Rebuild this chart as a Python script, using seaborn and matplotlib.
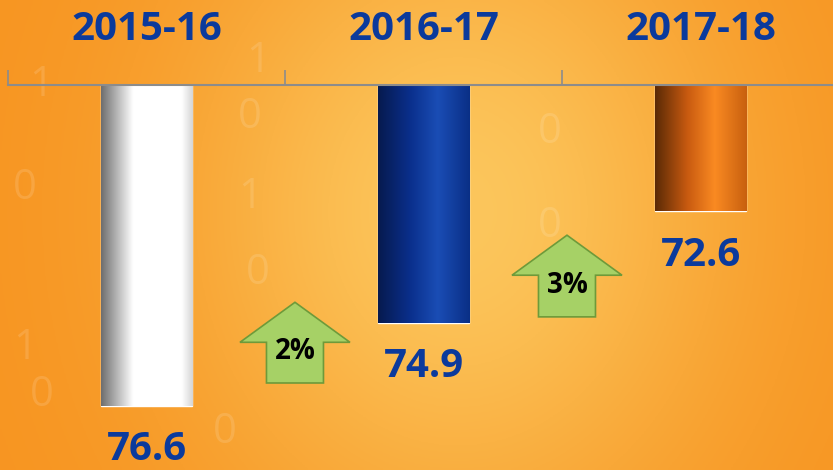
import numpy as np
import matplotlib.pyplot as plt
import matplotlib.patches as mpatches
from matplotlib.colors import LinearSegmentedColormap
import seaborn as sns

# data
years = ["2015-16", "2016-17", "2017-18"]
values = [76.6, 74.9, 72.6]
growth = ["2%", "3%"]

# arrow placement (layout only)
arrow_x = [0.536, 1.518]
arrow_bottom = [76.13, 74.77]
arrow_top = [74.47, 73.09]

sns.set_theme(style="white")
plt.rcParams["font.family"] = ["Open Sans", "DejaVu Sans"]

BLUE = "#0B3A9C"
GRAY = "#8C8C8C"

fig = plt.figure(figsize=(8.33, 4.70), dpi=100)

# =====================
# background gradient
# =====================
bg = fig.add_axes([0, 0, 1, 1], zorder=0)
gx, gy = np.meshgrid(np.linspace(0, 1, 300), np.linspace(0, 1, 170))
w = np.exp(-((gx - 0.55) / 0.33) ** 2 - ((gy - 0.45) / 0.7) ** 2)
dark = np.array([247, 148, 32]) / 255
light = np.array([252, 198, 92]) / 255
img = dark[None, None, :] * (1 - w[..., None]) + light[None, None, :] * w[..., None]
bg.imshow(img, extent=[0, 1, 0, 1], aspect="auto", origin="upper")
for ch, fx, fy in [("1", 0.05, 0.82), ("1", 0.31, 0.87), ("0", 0.03, 0.60),
                   ("1", 0.30, 0.58), ("0", 0.30, 0.75), ("0", 0.31, 0.42),
                   ("1", 0.03, 0.26), ("0", 0.05, 0.16), ("0", 0.66, 0.72),
                   ("0", 0.66, 0.52), ("1", 0.18, 0.40), ("0", 0.27, 0.08)]:
    bg.text(fx, fy, ch, color="white", alpha=0.13, fontsize=30,
            ha="center", va="center", transform=bg.transAxes)
bg.set_xlim(0, 1)
bg.set_ylim(0, 1)
bg.axis("off")

# =====================
# bars (hanging from top)
# =====================
ax = fig.add_axes([8 / 833, 0, 831 / 833, 1 - 85 / 470], zorder=1)
ax.patch.set_alpha(0)

sns.barplot(x=years, y=values, hue=years, palette=["#FFFFFF", "#0B3A9C", "#F08020"],
            legend=False, width=0.33, ax=ax, saturation=1)

ax.set_xlim(-0.5, 2.5)
ax.set_ylim(77.92, 70)
y_top = ax.get_ylim()[1]

grads = [
    [(0.0, "#6E6E6E"), (0.35, "#FFFFFF"), (0.88, "#FFFFFF"), (1.0, "#D5D5D5")],
    [(0.0, "#061A4E"), (0.35, "#0A2F8C"), (0.65, "#1A4DB5"), (1.0, "#0A2F86")],
    [(0.0, "#5A2A06"), (0.35, "#C85A10"), (0.65, "#FA8A22"), (1.0, "#C8600F")],
]
for patch, stops in zip(ax.patches, grads):
    cmap = LinearSegmentedColormap.from_list("g", stops)
    x0, bw = patch.get_x(), patch.get_width()
    y_end = patch.get_y() + patch.get_height()
    grad = np.linspace(0, 1, 256)[None, :]
    ax.imshow(grad, cmap=cmap, extent=[x0, x0 + bw, y_end, y_top],
              aspect="auto", zorder=patch.get_zorder() + 0.1)

ax.set_xlim(-0.5, 2.5)
ax.set_ylim(77.92, 70)

# value labels
for i, v in enumerate(values):
    ax.text(i, v + 0.9, f"{v}", ha="center", va="center", fontsize=29,
            fontweight="bold", color=BLUE)

# growth arrows
for xa, yb, yt, lab in zip(arrow_x, arrow_bottom, arrow_top, growth):
    arr = mpatches.FancyArrow(xa, yb, 0, yt - yb, width=57 / 277,
                              head_width=110 / 277, head_length=40 / 48.6,
                              length_includes_head=True, facecolor="#A6D166",
                              edgecolor="#6E9A3A", linewidth=1.2, zorder=4)
    ax.add_patch(arr)
    ax.text(xa, yb - 0.64, lab, ha="center", va="center", fontsize=20,
            fontweight="bold", color="black", zorder=5)

# axis styling
ax.xaxis.tick_top()
ax.set_xticks(range(len(years)))
ax.set_xticklabels(years, fontsize=29, fontweight="bold", color=BLUE)
ax.set_xticks([-0.5, 0.5, 1.5, 2.5], minor=True)
ax.tick_params(axis="x", which="major", length=0, pad=26)
ax.tick_params(axis="x", which="minor", length=11, width=1.2, color=GRAY,
               direction="out", top=True, bottom=False)
ax.set_yticks([])
ax.set_xlabel("")
ax.set_ylabel("")
for side in ["left", "right", "bottom"]:
    ax.spines[side].set_visible(False)
ax.spines["top"].set_color(GRAY)
ax.spines["top"].set_linewidth(1.5)

fig.savefig("out.png", dpi=100)
